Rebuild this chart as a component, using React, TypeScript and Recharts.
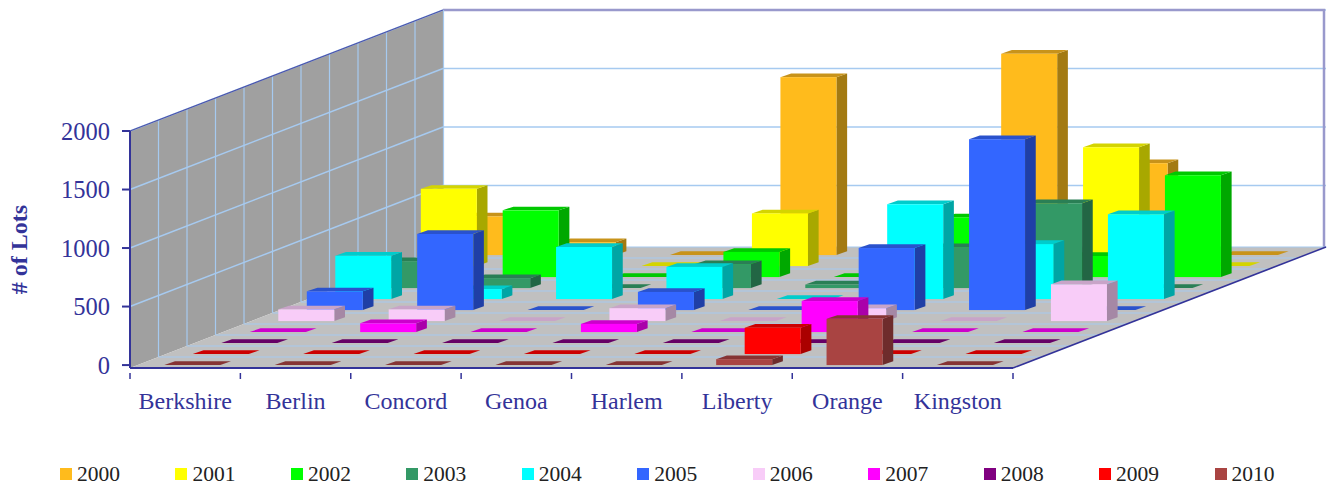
import { ComposedChart, Bar, XAxis, YAxis, Legend } from 'recharts'

const towns = ['Berkshire', 'Berlin', 'Concord', 'Genoa', 'Harlem', 'Liberty', 'Orange', 'Kingston']
const yTicks = [0, 500, 1000, 1500, 2000]

const y2000 = [330, 110, 0, 1520, 0, 1720, 785, 0]
const y2001 = [660, 0, 0, 450, 0, 0, 1015, 0]
const y2002 = [0, 570, 0, 215, 0, 510, 180, 870]
const y2003 = [230, 85, 0, 205, 30, 350, 725, 0]
const y2004 = [370, 85, 445, 275, 0, 810, 470, 725]
const y2005 = [160, 650, 0, 155, 0, 530, 1460, 0]
const y2006 = [100, 100, 0, 110, 0, 110, 0, 315]
const y2007 = [0, 75, 0, 70, 0, 265, 0, 0]
const y2008 = [0, 0, 0, 0, 0, 0, 0, 0]
const y2009 = [0, 0, 0, 0, 0, 225, 0, 0]
const y2010 = [0, 0, 0, 0, 0, 50, 395, 0]

const years = ['2000', '2001', '2002', '2003', '2004', '2005', '2006', '2007', '2008', '2009', '2010']
const values = [y2000, y2001, y2002, y2003, y2004, y2005, y2006, y2007, y2008, y2009, y2010]
const colors = ['#FFBB1C', '#FFFF00', '#00FF00', '#339966', '#00FFFF', '#3366FF', '#F8CCF8', '#FF00FF', '#800080', '#FF0000', '#A94442']
const sideColors = ['#A37A12', '#A8A800', '#00A800', '#226644', '#00A5A5', '#1F3FA6', '#A588A5', '#AA00AA', '#550055', '#AA0000', '#6E2C2C']
const topColors = ['#C8931A', '#D4D400', '#00C800', '#2A7F55', '#00CCCC', '#2A52CC', '#C8A4C8', '#CC00CC', '#660066', '#CC0000', '#863434']

const rows = towns.map((town, i) => {
  const row: Record<string, string | number> = { town }
  years.forEach((y, s) => {
    row[y] = values[s][i]
  })
  return row
})

// chart frame
const W = 1328
const H = 485
const LEFT = 130
const RIGHT = 1013
const TOP = 131
const BOTTOM = 368
const ZERO = 365
const PX = 0.117
const DEPTH_X = 313
const DEPTH_Y = -121
const ROW_X = 28.5
const ROW_Y = 11
const BAR = 56
const NAVY = '#333399'
const GRID = '#A6CAF0'

function Backdrop() {
  const lines = yTicks.slice(1)
  return (
    <g>
      {/* back wall */}
      <rect x={LEFT + DEPTH_X} y={TOP + DEPTH_Y} width={RIGHT - LEFT - 1} height={BOTTOM - TOP + 0} fill="#fff" />
      {lines.map((t) => (
        <line key={t} x1={LEFT + DEPTH_X} x2={RIGHT + DEPTH_X} y1={ZERO - t * PX + DEPTH_Y} y2={ZERO - t * PX + DEPTH_Y} stroke={GRID} strokeWidth={1.5} />
      ))}
      <path
        d={`M${LEFT + DEPTH_X} ${TOP + DEPTH_Y}H${RIGHT + DEPTH_X - 2}V${BOTTOM + DEPTH_Y}`}
        fill="none"
        stroke="#9999CC"
        strokeWidth={2.5}
      />
      {/* side wall */}
      <polygon
        points={`${LEFT},${TOP} ${LEFT + DEPTH_X},${TOP + DEPTH_Y} ${LEFT + DEPTH_X},${BOTTOM + DEPTH_Y} ${LEFT},${BOTTOM}`}
        fill="#A0A0A0"
      />
      {years.map((_, r) => (
        <line
          key={r}
          x1={LEFT + (r + 1) * ROW_X}
          x2={LEFT + (r + 1) * ROW_X}
          y1={TOP + (r + 1) * DEPTH_Y / 11}
          y2={BOTTOM + (r + 1) * DEPTH_Y / 11}
          stroke={GRID}
          strokeWidth={1.2}
        />
      ))}
      {lines.map((t) => (
        <line key={t} x1={LEFT} x2={LEFT + DEPTH_X} y1={ZERO - t * PX} y2={ZERO - t * PX + DEPTH_Y} stroke={GRID} strokeWidth={1.5} />
      ))}
      <line x1={LEFT} y1={TOP} x2={LEFT + DEPTH_X} y2={TOP + DEPTH_Y} stroke={NAVY} strokeWidth={1.2} strokeOpacity={0.8} />
      {/* floor */}
      <polygon
        points={`${LEFT},${BOTTOM} ${RIGHT},${BOTTOM} ${RIGHT + DEPTH_X},${BOTTOM + DEPTH_Y} ${LEFT + DEPTH_X},${BOTTOM + DEPTH_Y}`}
        fill="#C0C0C0"
      />
      {years.map((_, r) => (
        <line
          key={r}
          x1={LEFT + (r + 1) * ROW_X}
          x2={RIGHT + (r + 1) * ROW_X}
          y1={BOTTOM + (r + 1) * DEPTH_Y / 11}
          y2={BOTTOM + (r + 1) * DEPTH_Y / 11}
          stroke={GRID}
          strokeWidth={1.2}
        />
      ))}
      <line x1={RIGHT} y1={BOTTOM} x2={RIGHT + DEPTH_X} y2={BOTTOM + DEPTH_Y} stroke={NAVY} strokeWidth={1.5} />
    </g>
  )
}

// draws one box of the 3D look, pushed back on the floor by its series row
function boxShape(series: number) {
  const row = years.length - 1 - series
  return (props: any) => {
    const { x, y, width, height } = props
    const sx = x + 7.3 + row * ROW_X
    const top = y - row * ROW_Y
    const base = top + height
    const w = width
    const dx = 10.7
    const dy = -3.7
    return (
      <g>
        <polygon
          points={`${sx + w},${top} ${sx + w + dx},${top + dy} ${sx + w + dx},${base + dy} ${sx + w},${base}`}
          fill={sideColors[series]}
        />
        <polygon
          points={`${sx},${top} ${sx + dx},${top + dy} ${sx + w + dx},${top + dy} ${sx + w},${top}`}
          fill={topColors[series]}
        />
        <rect x={sx} y={top} width={w} height={height} fill={colors[series]} />
      </g>
    )
  }
}

function TownTick(props: any) {
  const { x, y, payload, index } = props
  const half = (RIGHT - LEFT) / towns.length / 2
  return (
    <g>
      {index === 0 && <line x1={x - half} x2={x - half} y1={y - 3} y2={y + 3} stroke={NAVY} strokeWidth={1.5} />}
      <line x1={x + half} x2={x + half} y1={y - 3} y2={y + 3} stroke={NAVY} strokeWidth={1.5} />
      <text x={x} y={y + 33} textAnchor="middle" fontSize={24} fontFamily="Liberation Serif" fill={NAVY}>
        {payload.value}
      </text>
    </g>
  )
}

function YearLegend(props: any) {
  const { payload } = props
  return (
    <div style={{ display: 'flex', fontFamily: 'Liberation Serif', fontSize: 21.5, color: '#222', lineHeight: '24px' }}>
      {(payload || []).map((p: any, i: number) => (
        <div key={p.value} style={{ width: 116.6, display: 'flex', alignItems: 'center' }}>
          <span style={{ width: 12, height: 12, background: colors[i], marginRight: 5, display: 'inline-block' }} />
          {p.value}
        </div>
      ))}
    </div>
  )
}

export default function App() {
  return (
    <div style={{ position: 'absolute', left: 0, top: 0, width: W, height: H, background: '#fff' }}>
      <ComposedChart
        width={W}
        height={H}
        data={rows}
        barSize={BAR}
        barGap={-BAR}
        margin={{ top: TOP, right: W - RIGHT, left: 0, bottom: 0 }}
      >
        <Backdrop />
        <XAxis
          dataKey="town"
          interval={0}
          height={H - BOTTOM}
          tickLine={false}
          axisLine={{ stroke: NAVY, strokeWidth: 2 }}
          tick={<TownTick />}
        />
        <YAxis
          width={LEFT}
          domain={[-25, 2000]}
          ticks={yTicks}
          interval={0}
          tickSize={8}
          tickMargin={12}
          axisLine={{ stroke: NAVY, strokeWidth: 2 }}
          tickLine={{ stroke: NAVY, strokeWidth: 2 }}
          tick={{ fill: NAVY, fontSize: 24.5, fontFamily: 'Liberation Serif' }}
          label={{
            value: '# of Lots',
            angle: -90,
            position: 'insideLeft',
            offset: 18,
            style: { fill: NAVY, fontSize: 24, fontWeight: 'bold', fontFamily: 'Liberation Serif', textAnchor: 'middle' },
          }}
        />
        {years.map((y, s) => (
          <Bar key={y} dataKey={y} name={y} fill={colors[s]} isAnimationActive={false} shape={boxShape(s)} />
        ))}
        <Legend
          layout="horizontal"
          verticalAlign="middle"
          content={<YearLegend />}
          wrapperStyle={{ position: 'absolute', left: 60, top: 462, width: 1270 }}
        />
      </ComposedChart>
    </div>
  )
}
